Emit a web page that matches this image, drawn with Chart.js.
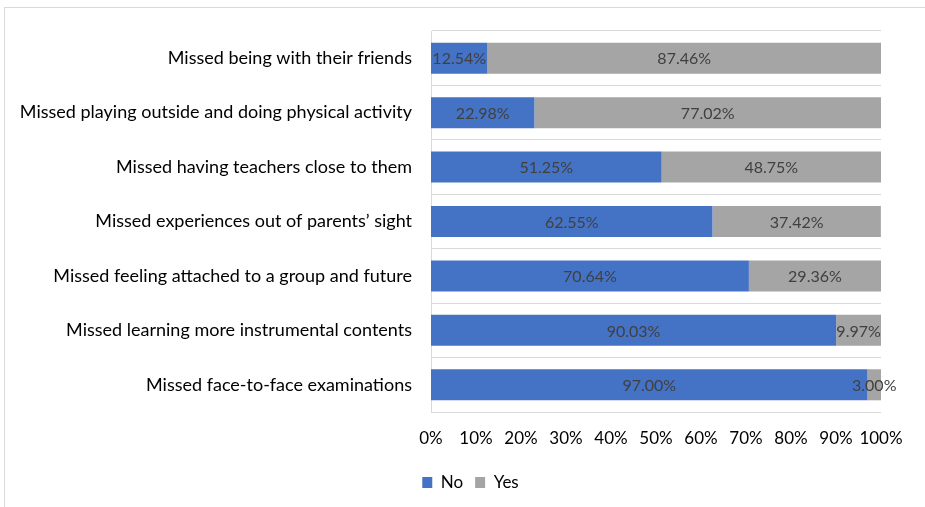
<!DOCTYPE html>
<html>
<head>
<meta charset="utf-8">
<script src="https://cdn.jsdelivr.net/npm/chart.js@4.4.1/dist/chart.umd.min.js"></script>
<style>
    html, body { margin: 0; padding: 0; background: #fff; overflow: hidden; }
    #frame { position: absolute; left: 4px; top: 7px; width: 960px; height: 540px; border: 1px solid #d9d9d9; }
    #wrap { position: absolute; left: 0; top: 0; width: 925px; height: 507px; }
</style>
</head>
<body>
<div id="frame"></div>
<div id="wrap"><canvas id="chart"></canvas></div>
<script>
const categories = [
    'Missed being with their friends',
    'Missed playing outside and doing physical activity',
    'Missed having teachers close to them',
    'Missed experiences out of parents\u2019 sight',
    'Missed feeling attached to a group and future',
    'Missed learning more instrumental contents',
    'Missed face-to-face examinations'
];
const noValues = [12.54, 22.98, 51.25, 62.55, 70.64, 90.03, 97.00];
const yesValues = [87.46, 77.02, 48.75, 37.42, 29.36, 9.97, 3.00];
const xTicks = [0, 10, 20, 30, 40, 50, 60, 70, 80, 90, 100];

const FONT = "Lato, 'Open Sans', sans-serif";

// simple data labels drawn in the middle of every segment
const segmentLabels = {
    id: 'segmentLabels',
    afterDatasetsDraw(chart) {
        const c = chart.ctx;
        c.save();
        c.font = '16px ' + FONT;
        c.fillStyle = '#404040';
        c.textAlign = 'center';
        c.textBaseline = 'middle';
        chart.data.datasets.forEach((ds, i) => {
            chart.getDatasetMeta(i).data.forEach((bar, j) => {
                const x = (bar.x + bar.base) / 2;
                c.fillText(ds.data[j].toFixed(2) + '%', x, bar.y + 1);
            });
        });
        c.restore();
    }
};

// legend sits a bit right of the canvas centre in the original
const shiftLegend = {
    id: 'shiftLegend',
    afterLayout(chart) {
        if (chart.legend) {
            chart.legend.left += 30;
            chart.legend.right += 30;
        }
    }
};

new Chart(document.getElementById('chart'), {
    type: 'bar',
    data: {
        labels: categories,
        datasets: [
            { label: 'No', data: noValues, backgroundColor: '#4472C4' },
            { label: 'Yes', data: yesValues, backgroundColor: '#A5A5A5' }
        ]
    },
    options: {
        indexAxis: 'y',
        responsive: true, maintainAspectRatio: false, animation: false,
        categoryPercentage: 0.57, barPercentage: 1,
        layout: { padding: { top: 31, right: 44, bottom: 6, left: 0 } },
        plugins: {
            tooltip: { enabled: false },
            legend: {
                position: 'bottom',
                labels: {
                    font: { family: FONT, size: 17 }, color: '#000',
                    boxWidth: 10, boxHeight: 11, padding: 12
                }
            }
        },
        scales: {
            x: {
                stacked: true, min: 0, max: 100,
                afterBuildTicks: (s) => { s.ticks = xTicks.map(v => ({ value: v })); },
                grid: { display: false, drawTicks: false },
                border: { display: false },
                ticks: {
                    color: '#000', padding: 16, autoSkip: false, maxRotation: 0, minRotation: 0,
                    font: { family: FONT, size: 17 }, callback: (v) => v + '%'
                },
                afterFit: (s) => { s.height = 50; }
            },
            y: {
                stacked: true,
                grid: { color: '#d9d9d9', drawTicks: false, offset: true },
                border: { color: '#d9d9d9' },
                ticks: { color: '#000', padding: 19, font: { family: FONT, size: 18 } },
                afterFit: (s) => { s.width = 431; }
            }
        }
    },
    plugins: [segmentLabels, shiftLegend]
});
</script>
</body>
</html>
